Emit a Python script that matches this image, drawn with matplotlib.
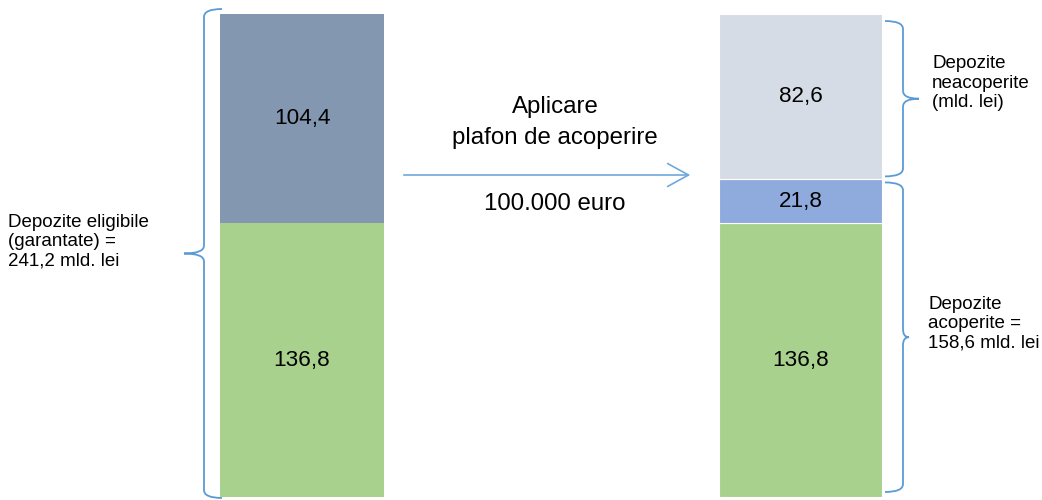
import matplotlib
matplotlib.use('Agg')
import matplotlib.pyplot as plt
from matplotlib.path import Path
from matplotlib.patches import PathPatch

plt.rcParams['font.family'] = ['Liberation Sans', 'DejaVu Sans']

# date (mld. lei)
eligibile = [136.8, 104.4]          # acoperite, peste plafon
dupa_plafon = [136.8, 21.8, 82.6]   # acoperite, acoperite peste 100k, neacoperite
culori_stanga = ['#A9D18E', '#8497B0']
culori_dreapta = ['#A9D18E', '#8FAADC', '#D6DCE5']
total = sum(eligibile)
acoperite = dupa_plafon[0] + dupa_plafon[1]

W, H = 1042, 500
fig = plt.figure(figsize=(W / 100, H / 100), dpi=100)
ax = fig.add_axes([0, 0, 1, 1])
ax.axis('off')

# scara verticala: 0 -> pixel 497, total -> pixel 14
px_per = (497 - 14) / total
ymin = -3 / px_per
ax.set_xlim(0, W)
ax.set_ylim(ymin, ymin + H / px_per)


def px(x, y):
    return x / W, 1 - y / H


def fmt(v):
    return ('%.1f' % v).replace('.', ',')


# bara stanga
bottom = 0
for v, c in zip(eligibile, culori_stanga):
    ax.bar(302, v, width=164, bottom=bottom, color=c, edgecolor='none')
    ax.text(302, bottom + v / 2, fmt(v), ha='center', va='center', fontsize=16.2)
    bottom += v

# bara dreapta
bottom = 0
for v, c in zip(dupa_plafon, culori_dreapta):
    ax.bar(800.5, v, width=163, bottom=bottom, color=c, edgecolor='white', linewidth=0.8)
    ax.text(800.5, bottom + v / 2, fmt(v), ha='center', va='center', fontsize=16.2)
    bottom += v


def acolada(x, y0, y1, side, tip, end, r=4.0, color='#5B9BD5'):
    ym = (y0 + y1) / 2
    verts = [(x - side * end, y1), (x, y1), (x, y1 - r),
             (x, ym + r),
             (x, ym), (x + side * tip, ym),
             (x, ym), (x, ym - r),
             (x, y0 + r),
             (x, y0), (x - side * end, y0)]
    codes = [Path.MOVETO, Path.CURVE3, Path.CURVE3,
             Path.LINETO,
             Path.CURVE3, Path.CURVE3,
             Path.CURVE3, Path.CURVE3,
             Path.LINETO,
             Path.CURVE3, Path.CURVE3]
    ax.add_patch(PathPatch(Path(verts, codes), fill=False, edgecolor=color, lw=1.3))


acolada(204, -0.5, total + 2.5, -1, 20, 18)
acolada(903, acoperite + 1.5, total - 3.5, 1, 16, 18)
acolada(903, 2.5, acoperite - 1.5, 1, 6, 18)

# sageata
ax.annotate('', xy=px(693, 175), xytext=px(401, 175),
            xycoords='axes fraction', textcoords='axes fraction',
            arrowprops=dict(arrowstyle='->,head_length=1.0,head_width=0.55',
                            color='#6FA8DC', lw=1.2, mutation_scale=15))

t = ax.transAxes
ax.text(*px(555, 107), 'Aplicare', ha='center', va='center', fontsize=17.3, transform=t)
ax.text(*px(555, 138), 'plafon de acoperire', ha='center', va='center', fontsize=17.3, transform=t)
ax.text(*px(555, 204), '100.000 euro', ha='center', va='center', fontsize=17.3, transform=t)

ax.text(*px(8, 242), 'Depozite eligibile\n(garantate) =\n241,2 mld. lei',
        ha='left', va='center', fontsize=13.5, linespacing=1.18, transform=t)
ax.text(*px(932, 83), 'Depozite\nneacoperite\n(mld. lei)',
        ha='left', va='center', fontsize=13.5, linespacing=1.18, transform=t)
ax.text(*px(928, 324), 'Depozite\nacoperite =\n158,6 mld. lei',
        ha='left', va='center', fontsize=13.5, linespacing=1.18, transform=t)

plt.savefig('out.png', dpi=100)
